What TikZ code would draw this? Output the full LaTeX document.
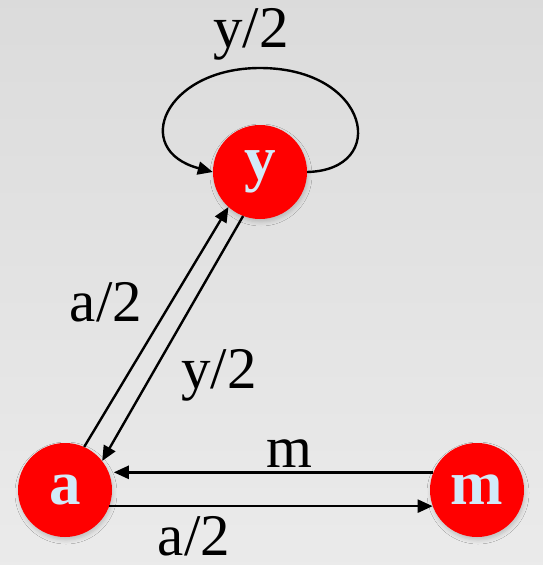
\documentclass[tikz,border=0pt]{standalone}
\usepackage{fontspec}
\setmainfont{Liberation Serif}
\usetikzlibrary{arrows.meta,shadows.blur}

\definecolor{statered}{HTML}{FF0000}
\definecolor{letterblue}{HTML}{D2EAF8}

\begin{document}
\begin{tikzpicture}
[
	x=1pt, y=-1pt,
	state/.style={circle,fill=statered,inner sep=0pt,minimum size=94pt,
		text=letterblue,font=\fontsize{63}{65}\selectfont\bfseries,
		blur shadow={shadow xshift=1pt,shadow yshift=-3pt,shadow blur radius=4pt,shadow opacity=18}},
	lbl/.style={anchor=base,inner sep=0pt,font=\fontsize{59}{61}\selectfont},
	edge/.style={line width=2.4pt,-{Triangle[length=15pt,width=13pt]}}
]

	% background
	\useasboundingbox (0,0) rectangle (543,565);
	\shade[top color=black!14,bottom color=black!8] (0,0) rectangle (543,565);

	% states
	\node[state] (y) at (260,172) {y};
	\node[state] (a) at (65,490) {a};
	\node[state] (m) at (477,490) {m};

	% transitions
	\coordinate (looptop) at (260,68);
	\draw[edge] (y.0) .. controls (390,170) and (370,68) .. (looptop)
		.. controls (165,68) and (130,150) .. (y.180);
	\draw[edge] (a.66) -- (y.228);
	\draw[edge] (y.249) -- (a.38);
	\draw[edge,shorten >=5pt] (m.158) -- (a.22);
	\draw[edge] (a.-20) -- (m.200);

	% rates
	\node[lbl] (ly) at (251,47) {y/2};
	\node[lbl] (lay) at (106,321) {a/2};
	\node[lbl] (lya) at (219,388) {y/2};
	\node[lbl] (lm) at (289,467) {m};
	\node[lbl] (lam) at (194,555) {a/2};

\end{tikzpicture}
\end{document}
